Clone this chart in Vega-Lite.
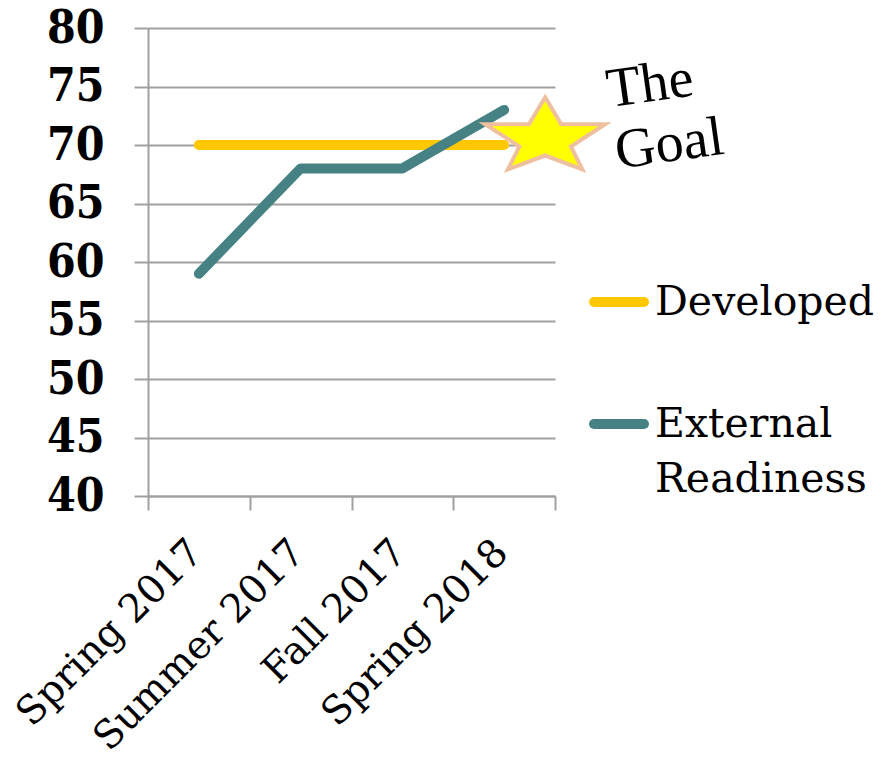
{
  "$schema": "https://vega.github.io/schema/vega-lite/v6.json",
  "width": 407,
  "height": 468,
  "autosize": {"type": "none"},
  "padding": {"left": 148, "top": 28, "right": 326, "bottom": 268},
  "background": "white",
  "config": {"view": {"stroke": null}, "font": "DejaVu Serif"},
  "datasets": {
    "series": [
      {"period": "Spring 2017", "series": "Developed", "value": 70},
      {"period": "Summer 2017", "series": "Developed", "value": 70},
      {"period": "Fall 2017", "series": "Developed", "value": 70},
      {"period": "Spring 2018", "series": "Developed", "value": 70},
      {"period": "Spring 2017", "series": "External Readiness", "value": 59},
      {"period": "Summer 2017", "series": "External Readiness", "value": 68},
      {"period": "Fall 2017", "series": "External Readiness", "value": 68},
      {"period": "Spring 2018", "series": "External Readiness", "value": 73}
    ],
    "goal": [
      {"period": "Spring 2018", "value": 71, "note": "The Goal"}
    ]
  },
  "layer": [
    {
      "data": {"name": "series"},
      "mark": {"type": "line", "strokeWidth": 10, "strokeCap": "round", "strokeJoin": "round"},
      "encoding": {
        "x": {
          "field": "period", "type": "nominal",
          "sort": ["Spring 2017", "Summer 2017", "Fall 2017", "Spring 2018"],
          "scale": {"type": "band", "paddingInner": 0, "paddingOuter": 0},
          "axis": {
            "title": null, "tickBand": "extent", "grid": false,
            "domainColor": "#A0A0A0", "domainWidth": 2,
            "tickColor": "#A0A0A0", "tickWidth": 2, "tickSize": 14,
            "labelAngle": -45, "labelAlign": "right", "labelBaseline": "middle",
            "labelFontSize": 39, "labelColor": "black", "labelPadding": 36,
            "labelOffset": -3,
            "labelFont": "DejaVu Serif", "labelLimit": 500, "labelOverlap": false
          }
        },
        "y": {
          "field": "value", "type": "quantitative",
          "scale": {"domain": [40, 80], "nice": false, "zero": false},
          "axis": {
            "title": null, "values": [40, 45, 50, 55, 60, 65, 70, 75, 80],
            "grid": true, "gridColor": "#A0A0A0", "gridWidth": 2,
            "domainColor": "#A0A0A0", "domainWidth": 2,
            "tickColor": "#A0A0A0", "tickWidth": 2, "tickSize": 14,
            "labelFontSize": 46, "labelFontWeight": "bold", "labelColor": "black",
            "labelPadding": 30, "labelFont": "DejaVu Serif Condensed"
          }
        },
        "color": {
          "field": "series", "type": "nominal",
          "scale": {"domain": ["Developed", "External Readiness"], "range": ["#FFC800", "#468284"]},
          "legend": {
            "orient": "none", "legendX": 441, "legendY": 244, "title": null,
            "padding": 0,
            "symbolType": "stroke", "symbolSize": 2500, "symbolStrokeWidth": 10,
            "labelFontSize": 41, "labelColor": "black", "labelOffset": 6,
            "labelFont": "DejaVu Serif",
            "labelBaseline": "alphabetic", "labelLimit": 400,
            "rowPadding": 71,
            "labelExpr": "datum.label == 'External Readiness' ? ['External', 'Readiness'] : datum.label",
            "encode": {
              "symbols": {"update": {"strokeCap": {"value": "round"}}},
              "labels": {"update": {"dy": {"value": 13}, "lineHeight": {"value": 55}}}
            }
          }
        }
      }
    },
    {
      "data": {"name": "goal"},
      "mark": {
        "type": "point", "filled": true,
        "shape": "M0,-0.6L0.27,-0.15L1,-0.15L0.43,0.22L0.62,0.6L0,0.37L-0.62,0.6L-0.43,0.22L-1,-0.15L-0.27,-0.15Z",
        "size": 14400, "fill": "#FFFF00", "stroke": "#EEC0A0", "strokeWidth": 4,
        "opacity": 1, "xOffset": 41
      },
      "encoding": {
        "x": {"field": "period", "type": "nominal", "sort": ["Spring 2017", "Summer 2017", "Fall 2017", "Spring 2018"]},
        "y": {"field": "value", "type": "quantitative"}
      }
    },
    {
      "data": {"name": "goal"},
      "mark": {
        "type": "text", "font": "Liberation Serif", "fontSize": 56, "angle": -8,
        "align": "left", "baseline": "alphabetic", "lineHeight": 62,
        "color": "black", "xOffset": 105, "yOffset": -26
      },
      "encoding": {
        "x": {"field": "period", "type": "nominal", "sort": ["Spring 2017", "Summer 2017", "Fall 2017", "Spring 2018"]},
        "y": {"field": "value", "type": "quantitative"},
        "text": {"value": ["The", "Goal"]}
      }
    }
  ]
}
